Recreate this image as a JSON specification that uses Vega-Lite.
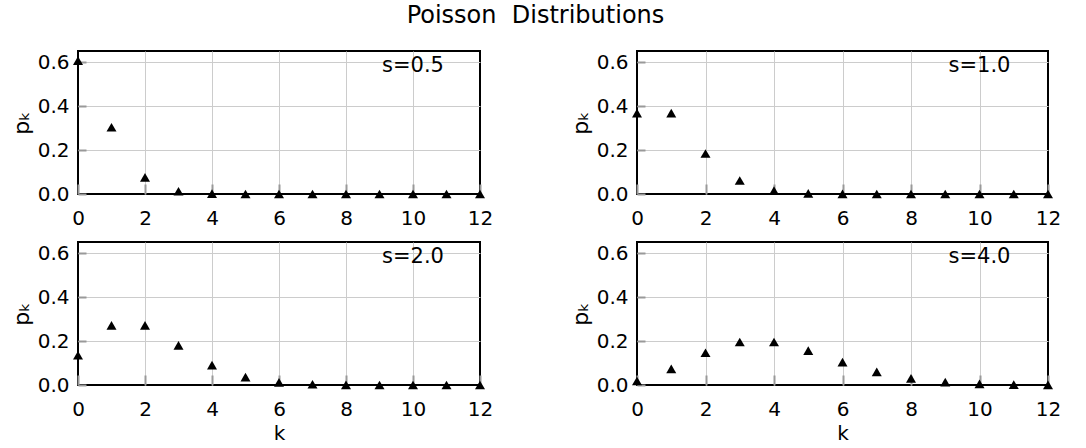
{
  "$schema": "https://vega.github.io/schema/vega-lite/v6.json",
  "padding": {"left": 9, "top": 4, "right": 10, "bottom": 0},
  "background": "white",
  "title": {"text": "Poisson\u00a0 Distributions", "fontSize": 24, "fontWeight": "normal", "font": "DejaVu Sans", "color": "black", "anchor": "middle", "offset": 22},
  "config": {
    "font": "DejaVu Sans",
    "view": {"stroke": "black", "strokeWidth": 2},
    "axis": {"labelFont": "DejaVu Sans", "labelFontSize": 20, "labelColor": "black", "titleFont": "DejaVu Sans", "titleFontSize": 22, "titleFontWeight": "normal", "titleColor": "black", "domain": false, "gridColor": "#cccccc", "gridWidth": 1, "tickColor": "#999999", "tickWidth": 2}
  },
  "datasets": {
    "pmf": [
      {"s": 0.5, "k": 0, "p": 0.6065}, {"s": 0.5, "k": 1, "p": 0.3033}, {"s": 0.5, "k": 2, "p": 0.0758}, {"s": 0.5, "k": 3, "p": 0.0126}, {"s": 0.5, "k": 4, "p": 0.0016}, {"s": 0.5, "k": 5, "p": 0.0002}, {"s": 0.5, "k": 6, "p": 0.0}, {"s": 0.5, "k": 7, "p": 0.0}, {"s": 0.5, "k": 8, "p": 0.0}, {"s": 0.5, "k": 9, "p": 0.0}, {"s": 0.5, "k": 10, "p": 0.0}, {"s": 0.5, "k": 11, "p": 0.0}, {"s": 0.5, "k": 12, "p": 0.0},
      {"s": 1.0, "k": 0, "p": 0.3679}, {"s": 1.0, "k": 1, "p": 0.3679}, {"s": 1.0, "k": 2, "p": 0.1839}, {"s": 1.0, "k": 3, "p": 0.0613}, {"s": 1.0, "k": 4, "p": 0.0153}, {"s": 1.0, "k": 5, "p": 0.0031}, {"s": 1.0, "k": 6, "p": 0.0005}, {"s": 1.0, "k": 7, "p": 0.0001}, {"s": 1.0, "k": 8, "p": 0.0}, {"s": 1.0, "k": 9, "p": 0.0}, {"s": 1.0, "k": 10, "p": 0.0}, {"s": 1.0, "k": 11, "p": 0.0}, {"s": 1.0, "k": 12, "p": 0.0},
      {"s": 2.0, "k": 0, "p": 0.1353}, {"s": 2.0, "k": 1, "p": 0.2707}, {"s": 2.0, "k": 2, "p": 0.2707}, {"s": 2.0, "k": 3, "p": 0.1804}, {"s": 2.0, "k": 4, "p": 0.0902}, {"s": 2.0, "k": 5, "p": 0.0361}, {"s": 2.0, "k": 6, "p": 0.012}, {"s": 2.0, "k": 7, "p": 0.0034}, {"s": 2.0, "k": 8, "p": 0.0009}, {"s": 2.0, "k": 9, "p": 0.0002}, {"s": 2.0, "k": 10, "p": 0.0}, {"s": 2.0, "k": 11, "p": 0.0}, {"s": 2.0, "k": 12, "p": 0.0},
      {"s": 4.0, "k": 0, "p": 0.0183}, {"s": 4.0, "k": 1, "p": 0.0733}, {"s": 4.0, "k": 2, "p": 0.1465}, {"s": 4.0, "k": 3, "p": 0.1954}, {"s": 4.0, "k": 4, "p": 0.1954}, {"s": 4.0, "k": 5, "p": 0.1563}, {"s": 4.0, "k": 6, "p": 0.1042}, {"s": 4.0, "k": 7, "p": 0.0595}, {"s": 4.0, "k": 8, "p": 0.0298}, {"s": 4.0, "k": 9, "p": 0.0132}, {"s": 4.0, "k": 10, "p": 0.0053}, {"s": 4.0, "k": 11, "p": 0.0019}, {"s": 4.0, "k": 12, "p": 0.0006}
    ],
    "labels": [
      {"s": 0.5, "k": 10, "p": 0.58, "label": "s=0.5"},
      {"s": 1.0, "k": 10, "p": 0.58, "label": "s=1.0"},
      {"s": 2.0, "k": 10, "p": 0.58, "label": "s=2.0"},
      {"s": 4.0, "k": 10, "p": 0.58, "label": "s=4.0"}
    ]
  },
  "spacing": 12,
  "vconcat": [
    {"spacing": 74, "hconcat": [
      {"width": 402, "height": 143, "layer": [
        {"data": {"name": "pmf"}, "transform": [{"filter": "datum.s == 0.5"}], "mark": {"type": "point", "shape": "triangle-up", "filled": true, "color": "black", "size": 100, "opacity": 1},
         "encoding": {
           "x": {"field": "k", "type": "quantitative", "scale": {"domain": [0, 12], "nice": false}, "axis": {"title": null, "values": [0, 2, 4, 6, 8, 10, 12], "tickSize": -10, "labelPadding": 24, "labelFlush": false, "gridOpacity": {"condition": {"test": "datum.value == 0 || datum.value == 12", "value": 0}, "value": 1}}},
           "y": {"field": "p", "type": "quantitative", "scale": {"domain": [0, 0.65], "nice": false}, "axis": {"title": "pₖ", "values": [0, 0.1, 0.2, 0.3, 0.4, 0.5, 0.6], "labelExpr": "round(datum.value*10) % 2 == 0 ? format(datum.value, '.1f') : ''", "tickSize": -8, "labelPadding": 17, "titlePadding": 4, "gridOpacity": {"condition": {"test": "datum.value == 0", "value": 0}, "value": 1}}}
         }},
        {"data": {"name": "labels"}, "transform": [{"filter": "datum.s == 0.5"}], "mark": {"type": "text", "fontSize": 21, "color": "black", "font": "DejaVu Sans"},
         "encoding": {"x": {"field": "k", "type": "quantitative"}, "y": {"field": "p", "type": "quantitative"}, "text": {"field": "label"}}}
      ]},
      {"width": 411, "height": 143, "layer": [
        {"data": {"name": "pmf"}, "transform": [{"filter": "datum.s == 1.0"}], "mark": {"type": "point", "shape": "triangle-up", "filled": true, "color": "black", "size": 100, "opacity": 1},
         "encoding": {
           "x": {"field": "k", "type": "quantitative", "scale": {"domain": [0, 12], "nice": false}, "axis": {"title": null, "values": [0, 2, 4, 6, 8, 10, 12], "tickSize": -10, "labelPadding": 24, "labelFlush": false, "gridOpacity": {"condition": {"test": "datum.value == 0 || datum.value == 12", "value": 0}, "value": 1}}},
           "y": {"field": "p", "type": "quantitative", "scale": {"domain": [0, 0.65], "nice": false}, "axis": {"title": "pₖ", "values": [0, 0.1, 0.2, 0.3, 0.4, 0.5, 0.6], "labelExpr": "round(datum.value*10) % 2 == 0 ? format(datum.value, '.1f') : ''", "tickSize": -8, "labelPadding": 17, "titlePadding": 4, "gridOpacity": {"condition": {"test": "datum.value == 0", "value": 0}, "value": 1}}}
         }},
        {"data": {"name": "labels"}, "transform": [{"filter": "datum.s == 1.0"}], "mark": {"type": "text", "fontSize": 21, "color": "black", "font": "DejaVu Sans"},
         "encoding": {"x": {"field": "k", "type": "quantitative"}, "y": {"field": "p", "type": "quantitative"}, "text": {"field": "label"}}}
      ]}
    ]},
    {"spacing": 74, "hconcat": [
      {"width": 402, "height": 143, "layer": [
        {"data": {"name": "pmf"}, "transform": [{"filter": "datum.s == 2.0"}], "mark": {"type": "point", "shape": "triangle-up", "filled": true, "color": "black", "size": 100, "opacity": 1},
         "encoding": {
           "x": {"field": "k", "type": "quantitative", "scale": {"domain": [0, 12], "nice": false}, "axis": {"title": "k", "titleFontSize": 20, "values": [0, 2, 4, 6, 8, 10, 12], "tickSize": -10, "labelPadding": 24, "labelFlush": false, "titlePadding": 4, "gridOpacity": {"condition": {"test": "datum.value == 0 || datum.value == 12", "value": 0}, "value": 1}}},
           "y": {"field": "p", "type": "quantitative", "scale": {"domain": [0, 0.65], "nice": false}, "axis": {"title": "pₖ", "values": [0, 0.1, 0.2, 0.3, 0.4, 0.5, 0.6], "labelExpr": "round(datum.value*10) % 2 == 0 ? format(datum.value, '.1f') : ''", "tickSize": -8, "labelPadding": 17, "titlePadding": 4, "gridOpacity": {"condition": {"test": "datum.value == 0", "value": 0}, "value": 1}}}
         }},
        {"data": {"name": "labels"}, "transform": [{"filter": "datum.s == 2.0"}], "mark": {"type": "text", "fontSize": 21, "color": "black", "font": "DejaVu Sans"},
         "encoding": {"x": {"field": "k", "type": "quantitative"}, "y": {"field": "p", "type": "quantitative"}, "text": {"field": "label"}}}
      ]},
      {"width": 411, "height": 143, "layer": [
        {"data": {"name": "pmf"}, "transform": [{"filter": "datum.s == 4.0"}], "mark": {"type": "point", "shape": "triangle-up", "filled": true, "color": "black", "size": 100, "opacity": 1},
         "encoding": {
           "x": {"field": "k", "type": "quantitative", "scale": {"domain": [0, 12], "nice": false}, "axis": {"title": "k", "titleFontSize": 20, "values": [0, 2, 4, 6, 8, 10, 12], "tickSize": -10, "labelPadding": 24, "labelFlush": false, "titlePadding": 4, "gridOpacity": {"condition": {"test": "datum.value == 0 || datum.value == 12", "value": 0}, "value": 1}}},
           "y": {"field": "p", "type": "quantitative", "scale": {"domain": [0, 0.65], "nice": false}, "axis": {"title": "pₖ", "values": [0, 0.1, 0.2, 0.3, 0.4, 0.5, 0.6], "labelExpr": "round(datum.value*10) % 2 == 0 ? format(datum.value, '.1f') : ''", "tickSize": -8, "labelPadding": 17, "titlePadding": 4, "gridOpacity": {"condition": {"test": "datum.value == 0", "value": 0}, "value": 1}}}
         }},
        {"data": {"name": "labels"}, "transform": [{"filter": "datum.s == 4.0"}], "mark": {"type": "text", "fontSize": 21, "color": "black", "font": "DejaVu Sans"},
         "encoding": {"x": {"field": "k", "type": "quantitative"}, "y": {"field": "p", "type": "quantitative"}, "text": {"field": "label"}}}
      ]}
    ]}
  ]
}
